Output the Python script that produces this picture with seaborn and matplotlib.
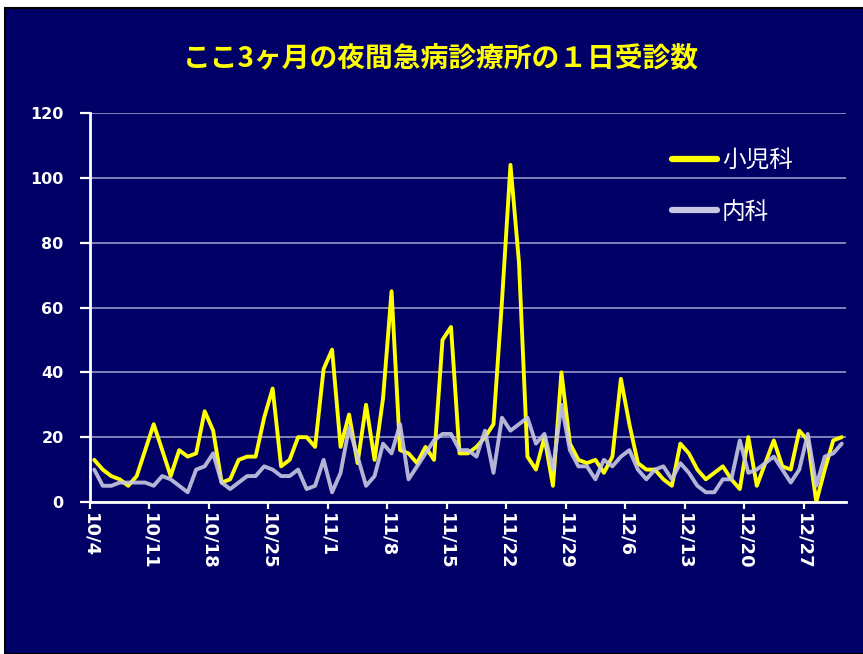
import numpy as np
import pandas as pd
import matplotlib
matplotlib.use("Agg")
import matplotlib.pyplot as plt
import seaborn as sns
from matplotlib.patches import Rectangle

# daily visits, 10/4 .. 12/31
pediatrics = [13, 10, 8, 7, 5, 8, 16, 24, 16, 8,
              16, 14, 15, 28, 22, 6, 7, 13, 14, 14,
              26, 35, 11, 13, 20, 20, 17, 41, 47, 17,
              27, 12, 30, 13, 32, 65, 16, 15, 12, 17,
              13, 50, 54, 15, 15, 17, 20, 24, 62, 104,
              74, 14, 10, 20, 5, 40, 18, 13, 12, 13,
              9, 14, 38, 24, 12, 10, 10, 7, 5, 18,
              15, 10, 7, 9, 11, 7, 4, 20, 5, 12,
              19, 11, 10, 22, 19, 0, 10, 19, 20]
internal = [10, 5, 5, 6, 6, 6, 6, 5, 8, 7,
            5, 3, 10, 11, 15, 6, 4, 6, 8, 8,
            11, 10, 8, 8, 10, 4, 5, 13, 3, 9,
            23, 14, 5, 8, 18, 15, 24, 7, 11, 15,
            19, 21, 21, 16, 16, 14, 22, 9, 26, 22,
            24, 26, 18, 21, 10, 30, 16, 11, 11, 7,
            13, 11, 14, 16, 10, 7, 10, 11, 7, 12,
            9, 5, 3, 3, 7, 7, 19, 9, 10, 12,
            14, 10, 6, 10, 21, 5, 14, 15, 18]
tick_labels = ["10/4", "10/11", "10/18", "10/25", "11/1", "11/8", "11/15",
               "11/22", "11/29", "12/6", "12/13", "12/20", "12/27"]
series_names = ["小児科", "内科"]
title = "ここ3ヶ月の夜間急病診療所の１日受診数"

navy = "#000066"
yellow = "#FFFF00"
lavender = "#C8C8E2"

days = np.arange(len(pediatrics))
df = pd.DataFrame({
    "day": np.concatenate([days, days]),
    "count": pediatrics + internal,
    "dept": [series_names[0]] * len(pediatrics) + [series_names[1]] * len(internal),
})

sns.set_theme(style="white")
plt.rcParams["font.family"] = ["DejaVu Sans", "Noto Sans CJK JP"]

W, H = 863, 654
fig = plt.figure(figsize=(W / 100, H / 100), dpi=100)
fig.patch.set_facecolor("white")
fig.patches.append(Rectangle((5 / W, 0), 1, (H - 8) / H, transform=fig.transFigure,
                             facecolor=navy, edgecolor="black", linewidth=1.5, zorder=-10))

ax = fig.add_axes([90 / W, 1 - 502 / H, (846 - 90) / W, (502 - 113) / H])
ax.set_facecolor(navy)

sns.lineplot(data=df, x="day", y="count", hue="dept", hue_order=series_names,
             palette=[yellow, lavender], linewidth=2.8, ax=ax)
ax.lines[1].set_alpha(0.9)

ax.set_xlim(-0.5, len(pediatrics) - 0.5)
ax.set_ylim(0, 120)
ax.set_yticks(np.arange(0, 121, 20))
ax.set_xticks(np.arange(len(tick_labels)) * 7 - 0.5)
ax.set_xticklabels(tick_labels, rotation=270, fontsize=13, fontweight="bold",
                   color="white", va="top", ha="center")
ax.set_yticklabels([str(v) for v in range(0, 121, 20)], fontsize=11.5,
                   fontweight="bold", color="white")
ax.set_xlabel("")
ax.set_ylabel("")

ax.grid(axis="y", color="#A4A4D2", linewidth=1.1)
ax.set_axisbelow(True)
for side in ["top", "right"]:
    ax.spines[side].set_visible(False)
for side in ["left", "bottom"]:
    ax.spines[side].set_color("white")
    ax.spines[side].set_linewidth(2)
ax.tick_params(axis="y", length=7, width=1.6, color="white", pad=12, left=True)
ax.tick_params(axis="x", length=5, width=1.6, color="white", pad=3, bottom=True)

handles, labels = ax.get_legend_handles_labels()
leg = ax.legend(handles, labels, loc="upper left", bbox_to_anchor=(651 / W, 1 - 128 / H),
                bbox_transform=fig.transFigure, frameon=False,
                prop={"family": ["Noto Sans CJK JP"], "size": 17},
                handlelength=1.9, handletextpad=0.2, labelspacing=1.2)
for line in leg.get_lines():
    line.set_linewidth(4.5)
for txt in leg.get_texts():
    txt.set_color("white")

fig.text(441 / W, 1 - 59 / H, title, color=yellow, fontsize=20, fontweight="bold",
         family=["Noto Sans CJK JP"], ha="center", va="center")

fig.savefig("out.png", dpi=100, facecolor=fig.get_facecolor())
